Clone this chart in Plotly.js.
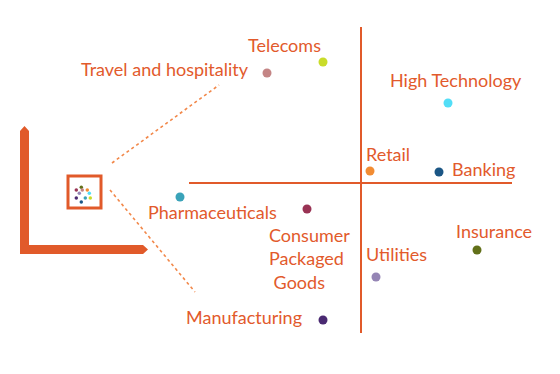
<!DOCTYPE html>
<html>
<head>
<meta charset="utf-8">
<script src="https://cdn.plot.ly/plotly-3.0.1.min.js"></script>
<style>html,body{margin:0;padding:0;background:#fff}#chart{width:560px;height:374px}</style>
</head>
<body>
<div id="chart"></div>
<script>
// Data: industries and their positions on the (unscaled) map
var industries = ["Telecoms","Travel and hospitality","High Technology","Retail","Banking",
                  "Pharmaceuticals","Consumer<br>Packaged<br> Goods","Utilities","Insurance","Manufacturing"];
var xValues = [323, 267, 448, 370, 439, 180, 307, 376, 477, 323];
var yValues = [62, 73, 103, 171, 172, 197, 209, 277, 250, 320];
var dotColors = ["#c9dc2a","#c48585","#52def7","#f28c33","#1b5685","#3aa3b9","#993354","#9585b5","#627019","#4a2a72"];

// label anchors (left edge, vertical middle)
var labelX = [246, 79, 388, 364, 450, 146, 267, 364, 454, 184];
var labelY = [45, 69, 80, 154, 169, 212, 258, 254, 231, 317];

// miniature cluster inside the small box
var miniX = [76.3, 81.3, 82.3, 87.3, 79.3, 89.3, 76.3, 85.3, 90.3, 81.3];
var miniY = [190, 187.3, 190, 190, 193.3, 193.3, 198, 198, 198, 202];
var miniColors = ["#993354","#627019","#c48585","#f28c33","#9585b5","#52def7","#4a2a72","#3aa3b9","#c9dc2a","#1b5685"];

var orange = "#e15a2a";
var txt = "#e25a2c";

var traces = [
  {x: xValues, y: yValues, mode: "markers", type: "scatter", hoverinfo: "skip",
   marker: {size: 9, color: dotColors}},
  {x: miniX, y: miniY, mode: "markers", type: "scatter", hoverinfo: "skip",
   marker: {size: 3.5, color: miniColors}}
];

var annotations = industries.map(function(t, i){
  return {x: labelX[i], y: labelY[i], xref: "x", yref: "y", text: t, showarrow: false,
          xanchor: "left", yanchor: "middle", align: "left",
          font: {family: "Lato, 'Noto Sans', sans-serif", size: 18, color: txt}};
});

var shapes = [
  // quadrant lines
  {type: "line", x0: 361, x1: 361, y0: 27, y1: 333, line: {color: orange, width: 2}},
  {type: "line", x0: 189, x1: 512, y0: 183, y1: 183, line: {color: orange, width: 2}},
  // L axes with pointed tips
  {type: "path", path: "M20,254 L20,131 L24.5,126 L29,131 L29,245 L143,245 L148,249.5 L143,254 Z",
   fillcolor: orange, line: {width: 0}},
  // small box
  {type: "rect", x0: 68, x1: 101, y0: 176, y1: 208, line: {color: orange, width: 3}},
  // dotted zoom lines
  {type: "line", x0: 112, y0: 163, x1: 219, y1: 85, line: {color: "#f2884a", width: 1.6, dash: "dot"}},
  {type: "line", x0: 110, y0: 190, x1: 195, y1: 292, line: {color: "#f2884a", width: 1.6, dash: "dot"}}
];

var layout = {
  width: 560, height: 374, margin: {l: 0, r: 0, t: 0, b: 0},
  paper_bgcolor: "#fff", plot_bgcolor: "#fff", showlegend: false,
  xaxis: {range: [0, 560], visible: false, fixedrange: true},
  yaxis: {range: [374, 0], visible: false, fixedrange: true},
  shapes: shapes, annotations: annotations
};

Plotly.newPlot("chart", traces, layout, {staticPlot: true});
</script>
</body>
</html>
